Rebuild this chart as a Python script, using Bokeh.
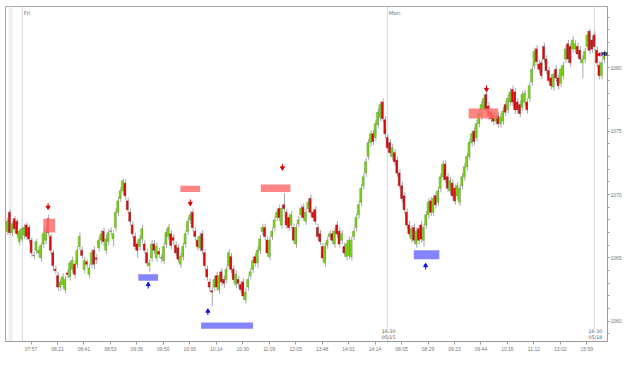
from bokeh.plotting import figure
from bokeh.models import (ColumnDataSource, FixedTicker, Span, Label, Range1d,
                          SingleIntervalTicker, BoxAnnotation)
from bokeh.embed import file_html
from bokeh.resources import INLINE

opens = [1067.1,1068.6,1067.0,1068.1,1067.9,1066.3,1066.5,1066.8,1067.6,1067.4,
 1066.4,1065.2,1065.6,1065.4,1065.0,1066.1,1066.4,1068.1,1066.7,1065.4,
 1064.1,1063.6,1062.7,1062.9,1062.5,1063.8,1063.5,1064.1,1064.5,1064.5,
 1065.9,1065.6,1064.1,1064.7,1063.7,1064.5,1065.6,1065.0,1065.8,1066.4,
 1067.1,1065.6,1066.3,1067.1,1066.5,1067.4,1068.6,1069.7,1070.3,1070.9,
 1069.5,1068.6,1067.6,1066.7,1066.1,1065.9,1066.5,1066.1,1065.4,1064.4,
 1065.0,1066.1,1065.0,1065.5,1065.0,1064.8,1066.1,1066.7,1066.9,1066.6,
 1066.0,1065.8,1064.5,1065.1,1066.1,1067.1,1068.0,1068.6,1067.1,1066.4,
 1065.8,1066.9,1065.4,1064.1,1063.1,1062.4,1062.7,1063.6,1062.5,1063.9,
 1063.3,1063.3,1064.4,1065.1,1064.1,1062.9,1063.3,1062.9,1063.1,1061.7,
 1062.7,1063.6,1064.1,1065.1,1064.6,1065.6,1067.1,1067.4,1066.4,1065.1,
 1066.7,1067.4,1068.2,1068.9,1067.6,1069.2,1068.6,1068.2,1067.6,1067.4,
 1066.1,1067.7,1068.4,1069.0,1067.9,1068.9,1069.7,1068.6,1068.8,1067.4,
 1066.9,1065.9,1064.6,1066.0,1066.7,1066.9,1066.1,1067.6,1067.1,1066.4,
 1065.9,1065.1,1065.2,1065.1,1066.7,1067.4,1068.4,1069.4,1070.7,1071.7,
 1073.0,1074.1,1074.8,1074.5,1075.5,1076.1,1077.3,1075.9,1074.5,1074.1,
 1073.0,1073.3,1072.7,1071.7,1070.7,1069.9,1068.6,1067.6,1066.5,1067.4,
 1066.1,1067.3,1067.6,1066.4,1067.6,1068.4,1069.5,1068.6,1069.9,1069.4,
 1070.5,1071.4,1072.4,1071.4,1070.3,1070.9,1070.5,1069.9,1069.4,1070.7,
 1071.4,1072.2,1073.0,1074.1,1075.0,1074.5,1075.6,1076.2,1076.7,1077.9,
 1077.0,1076.5,1076.4,1075.8,1076.2,1075.6,1075.8,1077.1,1076.7,1077.3,
 1078.3,1078.1,1077.3,1077.1,1076.9,1077.3,1077.3,1077.6,1078.9,1080.2,
 1081.5,1080.3,1080.4,1081.7,1080.7,1079.8,1079.2,1078.5,1079.9,1079.2,
 1078.8,1079.4,1080.7,1081.9,1081.7,1081.5,1081.5,1081.7,1081.4,1080.4,
 1080.7,1081.7,1082.9,1082.2,1082.6,1081.4,1080.2,1079.4,1080.7]

closes = [1067.9,1067.0,1067.7,1067.3,1066.9,1067.1,1067.3,1067.4,1066.7,1066.5,
 1065.4,1065.2,1066.3,1065.6,1066.0,1066.9,1067.3,1067.0,1065.6,1064.4,
 1064.0,1062.7,1063.1,1063.5,1063.3,1063.7,1064.6,1064.8,1063.7,1065.6,
 1066.7,1065.2,1064.8,1064.5,1064.2,1065.4,1064.5,1064.9,1066.4,1066.9,
 1066.3,1066.5,1067.0,1067.1,1066.9,1068.6,1069.5,1070.3,1071.1,1069.9,
 1068.8,1067.9,1066.9,1065.9,1065.6,1066.5,1067.3,1065.6,1064.6,1064.6,
 1066.1,1065.6,1065.9,1065.3,1065.0,1065.9,1067.0,1067.4,1066.0,1066.4,
 1065.4,1064.9,1065.1,1065.9,1066.9,1067.9,1068.4,1067.4,1066.7,1065.9,
 1066.7,1065.6,1064.4,1063.5,1062.7,1062.3,1063.3,1062.7,1063.6,1063.1,
 1063.0,1064.1,1065.4,1064.1,1063.3,1063.7,1063.0,1062.5,1062.0,1062.3,
 1063.3,1063.9,1064.8,1064.6,1065.6,1066.5,1067.4,1066.7,1065.4,1066.4,
 1067.1,1068.0,1068.6,1068.2,1068.9,1068.9,1067.6,1067.4,1068.4,1066.4,
 1067.4,1068.0,1068.9,1068.2,1068.6,1069.4,1068.6,1068.2,1067.9,1066.7,
 1066.3,1065.0,1065.9,1066.4,1066.9,1066.4,1067.1,1066.9,1066.1,1066.9,
 1065.4,1066.1,1066.4,1066.4,1067.1,1068.2,1069.2,1070.5,1071.4,1072.6,
 1074.1,1074.8,1074.2,1075.6,1076.5,1077.1,1076.0,1074.8,1073.7,1073.3,
 1073.7,1072.6,1071.7,1070.7,1069.7,1068.8,1067.6,1066.9,1067.3,1066.4,
 1067.1,1066.4,1066.5,1067.4,1068.4,1069.4,1068.6,1069.7,1069.2,1070.3,
 1071.4,1072.4,1071.2,1070.5,1071.1,1069.9,1069.5,1070.7,1070.5,1071.4,
 1072.2,1073.0,1074.1,1074.8,1074.2,1075.6,1076.4,1077.1,1077.6,1076.7,
 1076.2,1076.0,1075.8,1076.2,1075.6,1076.1,1076.6,1076.5,1077.6,1078.1,
 1077.3,1076.7,1076.7,1076.4,1077.9,1078.0,1076.7,1078.6,1079.9,1081.3,
 1080.5,1079.9,1079.4,1080.7,1079.8,1079.0,1078.6,1079.5,1079.2,1078.6,
 1079.9,1080.2,1081.5,1080.7,1080.4,1082.2,1081.9,1081.1,1080.7,1080.7,
 1081.3,1082.6,1081.4,1081.5,1081.7,1080.4,1079.4,1080.4,1081.1]

highs = [1068.2,1068.8,1067.9,1068.3,1068.1,1067.3,1067.5,1067.7,1067.8,1067.6,
 1066.6,1065.5,1066.5,1065.9,1066.2,1067.1,1067.5,1068.4,1066.9,1065.6,
 1064.4,1063.9,1063.4,1063.8,1063.6,1064.1,1064.8,1065.1,1064.8,1065.9,
 1067.0,1065.9,1065.1,1064.9,1064.5,1065.7,1065.9,1065.3,1066.7,1067.2,
 1067.4,1066.8,1067.3,1067.4,1067.2,1068.9,1069.8,1070.6,1071.3,1071.2,
 1069.8,1068.9,1067.9,1067.0,1066.4,1066.8,1067.6,1066.4,1065.7,1064.9,
 1066.4,1066.4,1066.2,1065.8,1065.3,1066.2,1067.3,1067.7,1067.2,1066.9,
 1066.3,1066.1,1065.4,1066.2,1067.2,1068.2,1068.7,1068.9,1067.4,1066.7,
 1067.0,1067.2,1065.7,1064.4,1063.4,1062.7,1063.6,1063.9,1063.9,1064.2,
 1063.6,1064.4,1065.7,1065.4,1064.4,1064.0,1063.6,1063.2,1063.4,1062.6,
 1063.6,1064.2,1065.1,1065.4,1065.9,1066.8,1067.7,1067.7,1066.7,1066.7,
 1067.4,1068.3,1068.9,1069.2,1069.2,1070.1,1068.9,1068.5,1068.7,1067.7,
 1067.7,1068.3,1069.2,1069.3,1068.9,1069.7,1070.0,1068.9,1069.1,1067.7,
 1067.2,1066.2,1066.2,1066.7,1067.2,1067.2,1067.4,1067.9,1067.4,1067.2,
 1066.2,1066.4,1066.7,1066.7,1067.4,1068.5,1069.5,1070.8,1071.7,1072.9,
 1074.4,1075.1,1075.1,1075.9,1076.8,1077.4,1077.6,1076.2,1074.8,1074.4,
 1074.0,1073.6,1073.0,1072.0,1071.0,1070.2,1068.9,1067.9,1067.6,1067.7,
 1067.4,1067.6,1067.9,1067.7,1068.7,1069.7,1069.8,1070.0,1070.2,1070.6,
 1071.7,1072.7,1072.7,1071.7,1071.4,1071.2,1070.8,1071.0,1070.8,1071.7,
 1072.5,1073.3,1074.4,1075.1,1075.3,1075.9,1076.7,1077.4,1077.9,1078.2,
 1077.3,1076.8,1076.7,1076.5,1076.5,1076.4,1076.9,1077.4,1077.9,1078.4,
 1078.6,1078.4,1077.6,1077.4,1078.2,1078.3,1077.6,1078.9,1080.2,1081.6,
 1081.8,1080.6,1080.7,1082.0,1081.0,1080.1,1079.5,1079.8,1080.2,1079.5,
 1080.2,1080.5,1081.8,1082.2,1082.0,1082.5,1082.2,1082.0,1081.7,1081.0,
 1081.6,1082.9,1083.1,1082.5,1082.9,1081.7,1080.5,1080.7,1081.4]

lows = [1066.8,1066.8,1066.7,1067.0,1066.6,1066.0,1066.3,1066.5,1066.4,1066.2,
 1065.1,1064.9,1065.3,1065.0,1064.7,1065.8,1066.1,1066.7,1065.3,1064.0,
 1063.7,1062.4,1062.4,1062.6,1062.2,1063.4,1063.2,1063.8,1063.4,1064.2,
 1065.6,1064.9,1063.8,1064.2,1063.4,1064.2,1064.1,1064.5,1065.5,1066.1,
 1065.9,1065.3,1066.0,1066.8,1065.9,1067.1,1068.3,1069.4,1070.0,1069.6,
 1068.5,1067.6,1066.6,1065.6,1065.0,1065.6,1066.2,1065.3,1064.3,1063.9,
 1064.7,1065.3,1064.7,1065.0,1064.6,1064.5,1065.8,1066.4,1065.7,1066.0,
 1065.1,1064.6,1064.2,1064.8,1065.8,1066.8,1067.7,1067.1,1066.4,1065.6,
 1065.5,1065.3,1064.1,1063.2,1062.4,1061.2,1062.4,1062.4,1062.2,1062.8,
 1062.6,1063.0,1064.1,1063.8,1063.0,1062.6,1062.6,1062.2,1061.7,1061.4,
 1062.4,1063.3,1063.8,1064.3,1064.2,1065.3,1066.8,1066.4,1065.1,1064.8,
 1066.4,1067.1,1067.9,1067.9,1067.3,1068.6,1067.3,1067.1,1067.3,1066.1,
 1065.8,1067.4,1068.1,1067.9,1067.6,1068.6,1068.3,1067.9,1067.6,1066.4,
 1066.0,1064.7,1064.3,1065.7,1066.4,1066.1,1065.8,1066.6,1065.8,1066.1,
 1065.1,1064.8,1064.9,1064.8,1066.4,1067.1,1068.1,1069.1,1070.4,1071.4,
 1072.7,1073.8,1073.9,1074.2,1075.2,1075.8,1075.7,1074.5,1073.4,1073.0,
 1072.7,1072.3,1071.4,1070.4,1069.4,1068.5,1067.3,1066.6,1066.2,1066.1,
 1065.8,1066.1,1066.2,1065.9,1067.3,1068.1,1068.3,1068.3,1068.9,1069.1,
 1070.2,1071.1,1070.9,1070.2,1070.0,1069.6,1069.2,1069.6,1069.1,1070.4,
 1071.1,1071.9,1072.7,1073.8,1073.9,1074.2,1075.3,1075.9,1076.4,1076.4,
 1075.9,1075.7,1075.5,1075.5,1075.3,1075.3,1075.5,1076.2,1076.4,1077.0,
 1077.0,1076.4,1076.4,1076.1,1076.6,1077.0,1076.4,1077.3,1078.6,1079.9,
 1080.2,1079.6,1079.1,1080.4,1079.5,1078.7,1078.3,1078.2,1078.9,1078.3,
 1078.5,1079.1,1080.4,1080.4,1080.1,1081.2,1081.2,1080.8,1080.4,1079.2,
 1080.4,1081.4,1081.1,1081.2,1081.4,1080.1,1079.1,1079.1,1080.4]

tick_bars = [10, 21, 32, 43, 54, 65, 76, 87, 98, 109, 120,
             131, 142, 153, 164, 175, 186, 197, 208, 219, 230, 241]
tick_labels = ["07:57", "08:21", "08:41", "08:53", "09:36", "09:50", "10:00",
               "10:14", "10:30", "11:09", "12:05", "13:48", "14:01", "14:14",
               "08:05", "08:29", "09:23", "09:44", "10:16", "11:12", "13:02", "15:59"]

session_breaks = [6.4, 158.1, 244.1]
session_days = ["Fri", "Mon"]
session_end_labels = ["16:30\n05/15", "16:30\n05/18"]

# signal zones (bar range, price range) and kind
zone_left = [15.1, 54.6, 72.1, 80.7, 105.5, 169.1, 191.9]
zone_right = [20.0, 62.8, 80.3, 102.3, 117.8, 179.7, 204.2]
zone_top = [1068.1, 1063.7, 1070.7, 1059.9, 1070.8, 1065.6, 1076.8]
zone_bottom = [1067.0, 1063.2, 1070.2, 1059.4, 1070.2, 1064.9, 1076.0]
zone_kind = ["sell", "buy", "sell", "buy", "sell", "buy", "sell"]

# signal arrows (bar, tip price, kind)
arrow_bar = [17.1, 58.7, 76.2, 83.5, 114.5, 174.0, 199.3]
arrow_tip = [1068.9, 1063.0, 1069.2, 1060.9, 1072.0, 1064.5, 1078.2]
arrow_kind = ["sell", "buy", "sell", "buy", "sell", "buy", "sell"]

n = len(closes)
idx = list(range(n))
body_top = [max(o, c) for o, c in zip(opens, closes)]
body_bot = [min(o, c) for o, c in zip(opens, closes)]
fills = ["#80dc14" if c > o else ("#e00d0d" if c < o else "#444444") for o, c in zip(opens, closes)]
lines = ["#4aa000" if c > o else ("#a80000" if c < o else "#444444") for o, c in zip(opens, closes)]

src = ColumnDataSource(dict(x=idx, wx=[i + 0.35 for i in idx], top=body_top, bottom=body_bot,
                            high=highs, low=lows, fill=fills, line=lines))

p = figure(width=624, height=354, output_backend="svg", toolbar_location=None,
           x_range=Range1d(-0.6, 249.6), y_range=Range1d(1058.4, 1084.85),
           y_axis_location="right",
           min_border_left=5, min_border_top=6, min_border_bottom=0, min_border_right=0)
p.grid.visible = False
p.background_fill_color = "white"
p.border_fill_color = "white"
p.outline_line_color = "#a8a8a8"

p.add_layout(BoxAnnotation(left=0.8, right=2.3, fill_color="#eeeeee", fill_alpha=1.0,
                           line_color=None, level="underlay"))
for b in session_breaks:
    p.add_layout(Span(location=b, dimension="height", line_color="#d6d6d6", line_width=1, level="underlay"))

p.segment(x0="wx", x1="wx", y0="low", y1="high", source=src, line_color="#a6a6a6", line_width=1)
p.vbar(x="x", width=0.72, top="top", bottom="bottom", fill_color="fill",
       line_color="line", line_width=0.5, source=src)

zsrc = ColumnDataSource(dict(left=zone_left, right=zone_right, top=zone_top, bottom=zone_bottom,
                             color=["#ff6f6f" if k == "sell" else "#6f6fff" for k in zone_kind]))
p.quad(left="left", right="right", top="top", bottom="bottom", fill_color="color",
       fill_alpha=0.85, line_color=None, source=zsrc)

sign = [-1 if k == "sell" else 1 for k in arrow_kind]
acol = ["#e00000" if k == "sell" else "#1010ee" for k in arrow_kind]
asrc = ColumnDataSource(dict(x=arrow_bar, tip=arrow_tip,
                             tail=[t - s * 0.42 for t, s in zip(arrow_tip, sign)],
                             head=[t - s * 0.1 for t, s in zip(arrow_tip, sign)],
                             marker=["inverted_triangle" if s < 0 else "triangle" for s in sign],
                             color=acol))
p.segment(x0="x", x1="x", y0="tail", y1="tip", line_color="color", line_width=1, source=asrc)
p.scatter(x="x", y="head", marker="marker", size=4, fill_color="color", line_color="color", source=asrc)

# day labels at top
for b, d in zip(session_breaks, session_days):
    p.add_layout(Label(x=b + 0.6, y=1084.3, text=d, text_font_size="5.5px", text_color="#777777",
                       text_baseline="middle", text_font="DejaVu Sans"))
for b, t in zip(session_breaks[1:], session_end_labels):
    p.add_layout(Label(x=b + 0.5, y=1058.55, text=t, text_font_size="4.8px", text_color="#555555",
                       text_baseline="bottom", text_align="center", text_font="DejaVu Sans",
                       background_fill_color="white", background_fill_alpha=0.8))

# axes
ya = p.yaxis[0]
ya.ticker = SingleIntervalTicker(interval=5, num_minor_ticks=5)
ya.axis_line_color = "#9a9a9a"
ya.major_tick_line_color = "#9a9a9a"
ya.minor_tick_line_color = "#9a9a9a"
ya.major_tick_in = 0
ya.major_tick_out = 2
ya.minor_tick_in = 0
ya.minor_tick_out = 2
ya.major_label_text_font_size = "5px"
ya.major_label_text_color = "#777777"
ya.major_label_standoff = 1

xa = p.xaxis[0]
xa.ticker = FixedTicker(ticks=tick_bars)
xa.major_label_overrides = {b: l for b, l in zip(tick_bars, tick_labels)}
xa.axis_line_color = "#9a9a9a"
xa.major_tick_line_color = "#9a9a9a"
xa.major_tick_in = 0
xa.major_tick_out = 3
xa.minor_tick_line_color = None
xa.major_label_text_font_size = "5px"
xa.major_label_text_color = "#777777"
xa.major_label_standoff = 1

# last price tag
p.add_layout(Label(x=596, x_units="screen", y=closes[-1], text="1081.1",
                   text_font_size="5px", text_color="white", text_baseline="middle",
                   background_fill_color="black", text_font="DejaVu Sans"))
p.add_layout(Label(x=590, x_units="screen", y=closes[-1], text="\u25c0",
                   text_font_size="6px", text_color="#e00000", text_baseline="middle"))

open("out.html", "w").write(file_html(p, INLINE))
